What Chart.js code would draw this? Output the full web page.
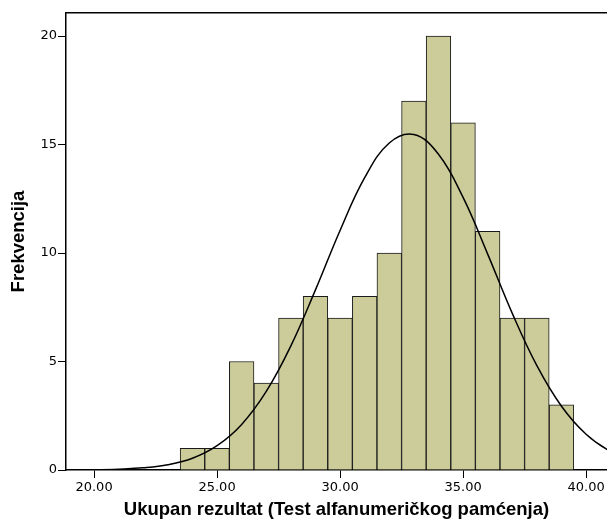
<!DOCTYPE html>
<html>
<head>
<meta charset="utf-8">
<script src="https://cdn.jsdelivr.net/npm/chart.js@4"></script>
<style>
  html, body { margin: 0; padding: 0; background: #fff; }
  #wrap { width: 607px; height: 526px; position: relative; }
</style>
</head>
<body>
<div id="wrap"><canvas id="hist"></canvas></div>
<script>
// Histogram bins (centre of each 1-point bin) and frequencies
const binCentres = [24, 25, 26, 27, 28, 29, 30, 31, 32, 33, 34, 35, 36, 37, 38, 39];
const frequencies = [1, 1, 5, 4, 7, 8, 7, 8, 10, 17, 20, 16, 11, 7, 7, 3];

// Normal curve
const curveX = [18, 19, 20, 21, 22, 23, 24, 25, 26, 27, 28, 29, 30, 31, 32, 33, 34, 35, 36, 37, 38, 39, 40, 41, 42];
const curveY = [0, 0, 0.01, 0.04, 0.1, 0.24, 0.54, 1.12, 2.1, 3.62, 5.72, 8.3, 11.04, 13.47, 15.07, 15.46, 14.55, 12.56, 9.95, 7.22, 4.81, 2.94, 1.65, 0.85, 0.4];

// Axis ticks
const xTicks = [20, 25, 30, 35, 40];
const yTicks = [0, 5, 10, 15, 20];

const tickFont = { family: 'DejaVu Sans', size: 13 };
const titleFont = { family: 'Liberation Sans', size: 18.5, weight: 'bold' };

const ctx = document.getElementById('hist').getContext('2d');
new Chart(ctx, {
  type: 'bar',
  data: {
    datasets: [
      {
        type: 'line',
        data: curveX.map((x, i) => ({ x, y: curveY[i] })),
        borderColor: '#000',
        borderWidth: 1.5,
        pointRadius: 0,
        tension: 0.4,
        fill: false,
        order: 0,
      },
      {
        type: 'bar',
        data: binCentres.map((x, i) => ({ x, y: frequencies[i] })),
        backgroundColor: '#cccc9a',
        borderColor: '#1a1a1a',
        borderWidth: 1,
        barPercentage: 1,
        categoryPercentage: 1,
        order: 1,
      },
    ],
  },
  options: {
    responsive: true,
    maintainAspectRatio: false,
    animation: false,
    layout: { padding: { top: 13, left: 0, right: 0, bottom: 0 } },
    plugins: { legend: { display: false }, tooltip: { enabled: false } },
    scales: {
      x: {
        type: 'linear',
        position: 'bottom',
        min: 18.86,
        max: 40.85,
        offset: false,
        afterFit: (s) => { s.height = 56; },
        afterBuildTicks: (s) => { s.ticks = xTicks.map((v) => ({ value: v })); },
        ticks: {
          includeBounds: false,
          color: '#000',
          font: tickFont,
          padding: 2,
          maxRotation: 0,
          callback: (v) => Number(v).toFixed(2),
        },
        grid: { display: true, drawOnChartArea: false, drawTicks: true, tickLength: 8, color: '#000', offset: false },
        border: { display: true, color: '#000', width: 1.5 },
        title: {
          display: true,
          text: 'Ukupan rezultat (Test alfanumeričkog pamćenja)',
          color: '#000',
          font: titleFont,
          padding: { top: 0, bottom: 5 },
        },
      },
      xTop: {
        type: 'linear',
        position: 'top',
        axis: 'x',
        min: 18.86,
        max: 40.85,
        afterFit: (s) => { s.height = 0; },
        ticks: { display: false },
        grid: { display: false, drawTicks: false },
        border: { display: true, color: '#000', width: 1.5 },
      },
      y: {
        type: 'linear',
        position: 'left',
        min: 0,
        max: 21.06,
        afterFit: (s) => { s.width = 66; },
        afterBuildTicks: (s) => { s.ticks = yTicks.map((v) => ({ value: v })); },
        ticks: { includeBounds: false, color: '#000', font: tickFont, padding: 1 },
        grid: { display: true, drawOnChartArea: false, drawTicks: true, tickLength: 8, color: '#000' },
        border: { display: true, color: '#000', width: 1.5 },
        title: {
          display: true,
          text: 'Frekvencija',
          color: '#000',
          font: titleFont,
          padding: { top: 8, bottom: 0 },
        },
      },
    },
  },
});
</script>
</body>
</html>
